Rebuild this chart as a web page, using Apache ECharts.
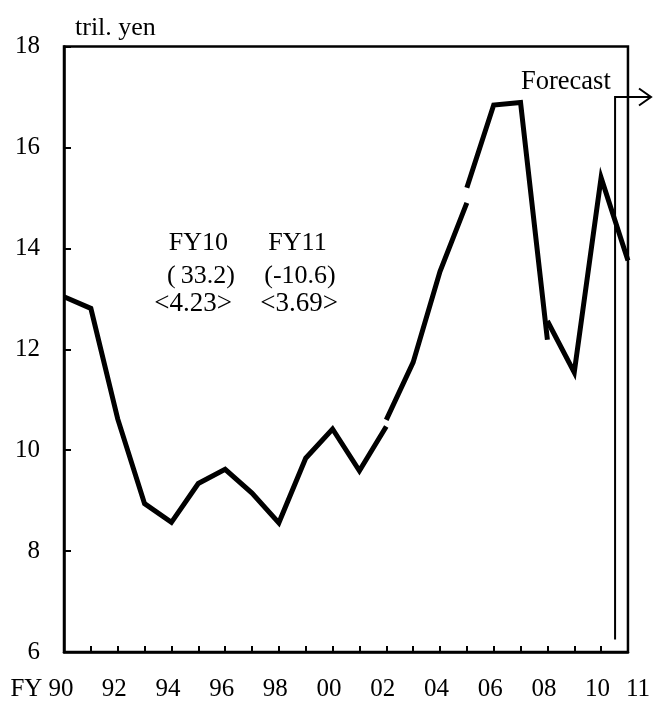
<!DOCTYPE html>
<html>
<head>
<meta charset="utf-8">
<script src="https://cdn.jsdelivr.net/npm/echarts@6/dist/echarts.min.js"></script>
<style>
html,body{margin:0;padding:0;background:#fff;}
#c{width:653px;height:702px;}
</style>
</head>
<body>
<div id="c"></div>
<script>
// Fiscal years (x) and values (tril. yen), split where the series has breaks
var years1 = [1990,1991,1992,1993,1994,1995,1996,1997,1998,1999,2000,2001,2002];
var vals1  = [13.04,12.81,10.62,8.94,8.57,9.34,9.62,9.15,8.56,9.84,10.42,9.59,10.47];
var years2 = [2002,2003,2004,2005];
var vals2  = [10.6,11.74,13.54,14.9];
var years3 = [2005,2006,2007,2008];
var vals3  = [15.2,16.84,16.89,12.19];
var years4 = [2008,2009,2010,2011];
var vals4  = [12.56,11.54,15.40,13.76];

var yTicks = [6,8,10,12,14,16,18];
var xLabelYears = [1990,1992,1994,1996,1998,2000,2002,2004,2006,2008,2010,2011];

var annoCols = ['FY10','FY11'];
var annoGrowth = ['(\u200933.2)','(-10.6)'];
var annoContrib = ['<4.23>','<3.69>'];
var forecastStart = 2010.52;

var FONT = '"Liberation Serif","Times New Roman",serif';
function pairs(xs, ys){ return xs.map(function(x,i){ return [x, ys[i]]; }); }
function lineSeries(xs, ys){
  return {type:'line', data:pairs(xs,ys), showSymbol:false, symbol:'none',
    lineStyle:{color:'#000', width:5, cap:'butt', join:'miter'}, animation:false, silent:true};
}

var chart = echarts.init(document.getElementById('c'), null, {renderer:'canvas'});
chart.setOption({
  animation:false,
  grid:{left:64, top:46.5, right:22.5, bottom:45, show:true, borderColor:'#000', borderWidth:2.5},
  xAxis:{type:'value', min:1990, max:2011, interval:1,
    axisLine:{show:true, lineStyle:{color:'#000', width:2.5}},
    axisTick:{show:true, inside:true, length:6, lineStyle:{color:'#000', width:2}},
    splitLine:{show:false},
    axisLabel:{show:true, margin:25, color:'#000', fontFamily:FONT, fontSize:25, padding:[0,7,0,0],
      showMinLabel:true, showMaxLabel:true,
      formatter:function(v){
        if (xLabelYears.indexOf(v) < 0) return '';
        var s = String(v % 100); if (s.length < 2) s = '0' + s;
        if (v === 1990) return '{fy|FY }{n|' + s + '}';
        if (v === 2011) return '{r|' + s + '}';
        return s;
      },
      rich:{
        fy:{fontFamily:FONT, fontSize:25, color:'#000'},
        n:{fontFamily:FONT, fontSize:25, color:'#000', padding:[0,37,0,0]},
        r:{fontFamily:FONT, fontSize:25, color:'#000', padding:[0,0,0,27]}
      }
    }
  },
  yAxis:{type:'value', min:6, max:18, interval:2,
    axisLine:{show:true, lineStyle:{color:'#000', width:2.5}},
    axisTick:{show:true, inside:true, length:7, lineStyle:{color:'#000', width:2}},
    splitLine:{show:false},
    axisLabel:{margin:24, color:'#000', fontFamily:FONT, fontSize:25,
      formatter:function(v){ return yTicks.indexOf(v) >= 0 ? String(v) : ''; }}
  },
  series:[lineSeries(years1, vals1), lineSeries(years2, vals2), lineSeries(years3, vals3), lineSeries(years4, vals4)]
});

var fx = chart.convertToPixel({xAxisIndex:0}, forecastStart);
var fyTop = chart.convertToPixel({yAxisIndex:0}, 17.0);
var fyBot = chart.convertToPixel({yAxisIndex:0}, 6.25);
var tipX = 651;
var txt = function(x, y, s, size, align){
  return {type:'text', x:x, y:y, silent:true,
    style:{text:s, fill:'#000', font:size + 'px ' + FONT, textAlign:align || 'center', textVerticalAlign:'middle'}};
};
chart.setOption({
  graphic:[
    txt(75, 28.5, 'tril. yen', 26, 'left'),
    txt(521, 82.5, 'Forecast', 26.5, 'left'),
    txt(198.3, 243.5, annoCols[0], 26), txt(297.5, 243.5, annoCols[1], 26),
    txt(201, 276, annoGrowth[0], 26), txt(300, 276, annoGrowth[1], 26),
    txt(193, 303.5, annoContrib[0], 27), txt(299, 303.5, annoContrib[1], 27),
    {type:'polyline', silent:true, shape:{points:[[fx, fyBot],[fx, fyTop],[tipX, fyTop]]},
      style:{stroke:'#000', lineWidth:2, fill:null}},
    {type:'polyline', silent:true, shape:{points:[[tipX-12, fyTop-8.5],[tipX, fyTop],[tipX-12, fyTop+8.5]]},
      style:{stroke:'#000', lineWidth:2, fill:null}}
  ]
});
</script>
</body>
</html>
